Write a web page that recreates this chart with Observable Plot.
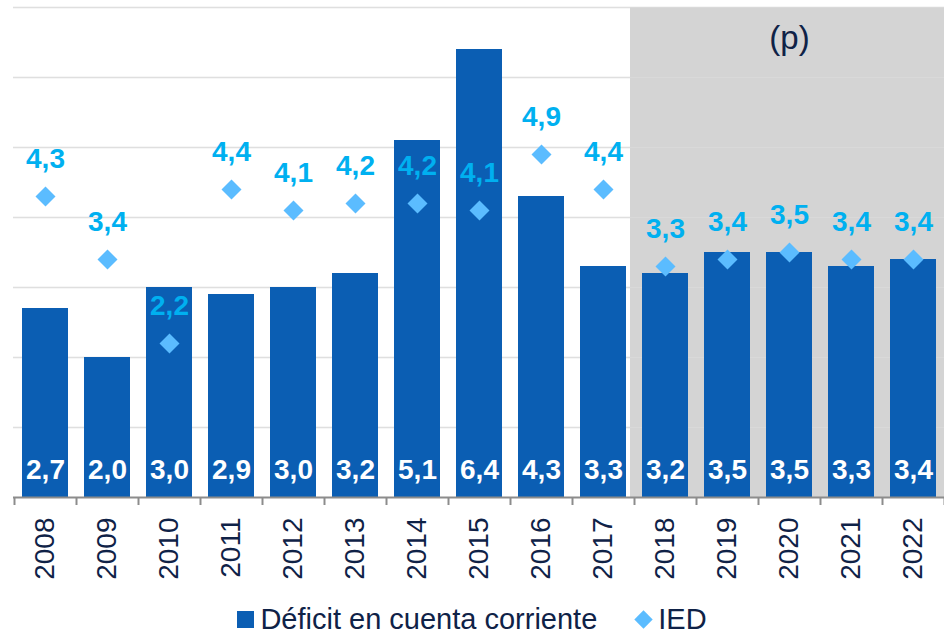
<!DOCTYPE html>
<html>
<head>
<meta charset="utf-8">
<script src="https://cdn.jsdelivr.net/npm/d3@7"></script>
<script src="https://cdn.jsdelivr.net/npm/@observablehq/plot@0.6"></script>
<style>
  html, body { margin: 0; padding: 0; background: #ffffff; }
  body { width: 944px; font-family: "Liberation Sans", Arial, sans-serif; }
  #chart svg { display: block; }
  #legend { height: 31px; line-height: 31px; display: flex; align-items: center; justify-content: center; font-size: 29px; color: #0f2247; }
  .item { display: flex; align-items: center; }
  .sq { width: 17px; height: 17px; background: #0b5eb3; margin-right: 6px; }
  .dm { width: 13px; height: 13px; background: #5bbcff; transform: rotate(45deg); margin: 0 8px 0 3px; }
</style>
</head>
<body>
<div id="chart"></div>
<div id="legend">
  <div class="item"><div class="sq"></div><span>Déficit en cuenta corriente</span></div>
  <div class="item" style="margin-left:37px"><div class="dm"></div><span>IED</span></div>
</div>
<script>
const years = ["2008","2009","2010","2011","2012","2013","2014","2015","2016","2017","2018","2019","2020","2021","2022"];
const deficit = [2.7, 2.0, 3.0, 2.9, 3.0, 3.2, 5.1, 6.4, 4.3, 3.3, 3.2, 3.5, 3.5, 3.3, 3.4];
const ied = [4.3, 3.4, 2.2, 4.4, 4.1, 4.2, 4.2, 4.1, 4.9, 4.4, 3.3, 3.4, 3.5, 3.4, 3.4];
const projectedYears = ["2018","2019","2020","2021","2022"];
const projectedLabel = "(p)";
const yTicks = [1, 2, 3, 4, 5, 6, 7];

const rows = years.map((year, i) => ({year, deficit: deficit[i], ied: ied[i]}));
const fmt = v => v.toFixed(1).replace(".", ",");
const navy = "#0f2247";
const font = "Liberation Sans, Arial, sans-serif";

const chart = Plot.plot({
  width: 944,
  height: 604,
  marginTop: 7,
  marginBottom: 107,
  marginLeft: 13,
  marginRight: 0,
  style: {fontFamily: font, background: "white"},
  x: {domain: years, paddingInner: 0.26, paddingOuter: 0.13, axis: null},
  y: {domain: [0, 7], axis: null},
  marks: [
    Plot.barY(projectedYears, {x: d => d, y1: 0, y2: 7, fill: "#d4d4d4", insetLeft: -12, insetRight: -9}),
    Plot.ruleY(yTicks, {stroke: "#d9d9d9", strokeWidth: 1.3, strokeOpacity: 0.85}),
    Plot.barY(rows, {x: "year", y: "deficit", fill: "#0b5eb3"}),
    Plot.ruleY([0], {stroke: "#8c8c8c", strokeWidth: 2}),
    Plot.ruleX(years, {x: d => d, dx: -31, y1: 0, y2: 0, insetBottom: -8, stroke: "#8c8c8c", strokeWidth: 2}),
    Plot.ruleX(years.slice(-1), {x: d => d, dx: 31, y1: 0, y2: 0, insetBottom: -8, stroke: "#8c8c8c", strokeWidth: 2}),
    Plot.text(rows, {x: "year", y: 0, text: d => fmt(d.deficit), dy: -27, fill: "white", fontWeight: "bold", fontSize: 28}),
    Plot.dot(rows, {x: "year", y: "ied", symbol: "diamond2", r: 9, fill: "#5bbcff", stroke: "none"}),
    Plot.text(rows, {x: "year", y: "ied", text: d => fmt(d.ied), dy: -37, fill: "#00b0f0", fontWeight: "bold", fontSize: 28}),
    Plot.text(years, {x: d => d, y: 0, text: d => d, rotate: -90, textAnchor: "end", dy: 20, fontSize: 28, fill: navy}),
    Plot.text([projectedLabel], {x: () => "2020", y: () => 7, text: d => d, dy: 31, fontSize: 33, fill: navy})
  ]
});
document.getElementById("chart").appendChild(chart);
</script>
</body>
</html>
